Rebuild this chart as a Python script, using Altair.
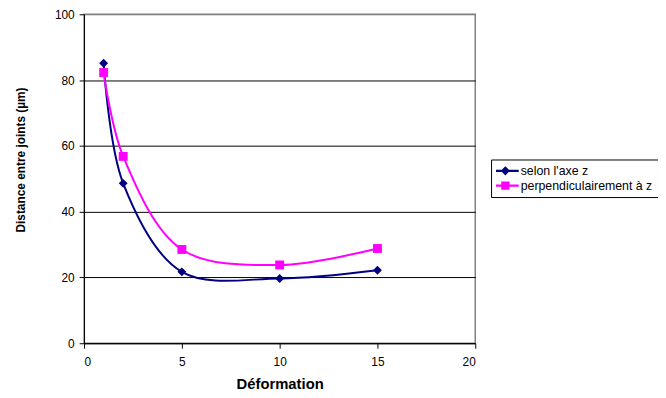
import altair as alt
import pandas as pd

# ---- data ----
deformation = [1, 2, 5, 10, 15]
selon_z = [85.1, 48.6, 21.7, 19.7, 22.2]
perp_z = [82.3, 56.8, 28.5, 23.8, 28.8]
series = ["selon l'axe z", "perpendiculairement à z"]
colors = ["#000080", "#FF00FF"]
markers = ["diamond", "square"]
x_ticks = [0, 5, 10, 15, 20]
y_ticks = [0, 20, 40, 60, 80, 100]

rows = []
for name, vals in zip(series, [selon_z, perp_z]):
    for d, v in zip(deformation, vals):
        rows.append({"Déformation": d, "Distance": v, "serie": name})
df = pd.DataFrame(rows)

FONT = "Liberation Sans"

# legend symbols: a short line with the series marker on it
DIAMOND = "M-1,-0.08L1,-0.08L1,0.08L-1,0.08Z M0,-0.34L0.34,0L0,0.34L-0.34,0Z"
SQUARE = "M-1,-0.08L1,-0.08L1,0.08L-1,0.08Z M-0.31,-0.31L0.31,-0.31L0.31,0.31L-0.31,0.31Z"

legend = alt.Legend(
    title=None,
    orient="none",
    legendX=412,
    legendY=147,
    strokeColor="black",
    fillColor="white",
    padding=5,
    labelFont=FONT,
    labelFontSize=12.5,
    labelColor="black",
    labelLimit=300,
    symbolSize=729,
    symbolStrokeWidth=0,
    symbolOffset=-4,
    symbolOpacity=1,
    symbolType={"expr": f"datum.index === 0 ? '{DIAMOND}' : '{SQUARE}'"},
    symbolFillColor={"expr": f"datum.index === 0 ? '{colors[0]}' : '{colors[1]}'"},
    labelOffset=2,
    rowPadding=2,
    clipHeight=13,
)

x = alt.X(
    "Déformation:Q",
    scale=alt.Scale(domain=[0, 20], nice=False),
    axis=alt.Axis(
        values=x_ticks,
        title="Déformation",
        grid=False,
        tickSize=5,
        labelPadding=9,
        titleFontSize=15,
        titleY=46,
        titleBaseline="alphabetic",
    ),
)
y = alt.Y(
    "Distance:Q",
    scale=alt.Scale(domain=[0, 100], nice=False),
    axis=alt.Axis(
        values=y_ticks,
        title="Distance entre joints (µm)",
        grid=True,
        gridColor={"condition": {"test": "datum.value === 100", "value": "#808080"}, "value": "black"},
        tickSize=5,
        labelPadding=5,
        titleAngle=270,
        titleAlign="center",
        titleBaseline="middle",
        titleX=-64.5,
        titleY=147,
    ),
)

base = alt.Chart(df)
lines = base.mark_line(interpolate="catmull-rom", strokeWidth=2).encode(
    x=x,
    y=y,
    color=alt.Color("serie:N", scale=alt.Scale(domain=series, range=colors), legend=legend),
)

point_layers = [
    base.transform_filter(alt.datum.serie == name)
    .mark_point(filled=True, size=81, opacity=1, shape=shp, color=col)
    .encode(x=x, y=y)
    for name, shp, col in zip(series, markers, colors)
]

chart = (
    alt.layer(lines, *point_layers)
    .properties(
        width=396,
        height=333,
        autosize="none",
        padding={"left": 77, "top": 4, "right": 185, "bottom": 48},
    )
    .configure_view(stroke="#808080", strokeWidth=1.5)
    .configure_axis(
        labelFont=FONT,
        labelFontSize=12,
        labelColor="black",
        titleFont=FONT,
        titleFontSize=12,
        titleFontWeight="bold",
        titleColor="black",
        domainColor="black",
        tickColor="black",
        gridWidth=1,
    )
)

chart.save("out.html", embed_options={"renderer": "svg", "actions": False})
